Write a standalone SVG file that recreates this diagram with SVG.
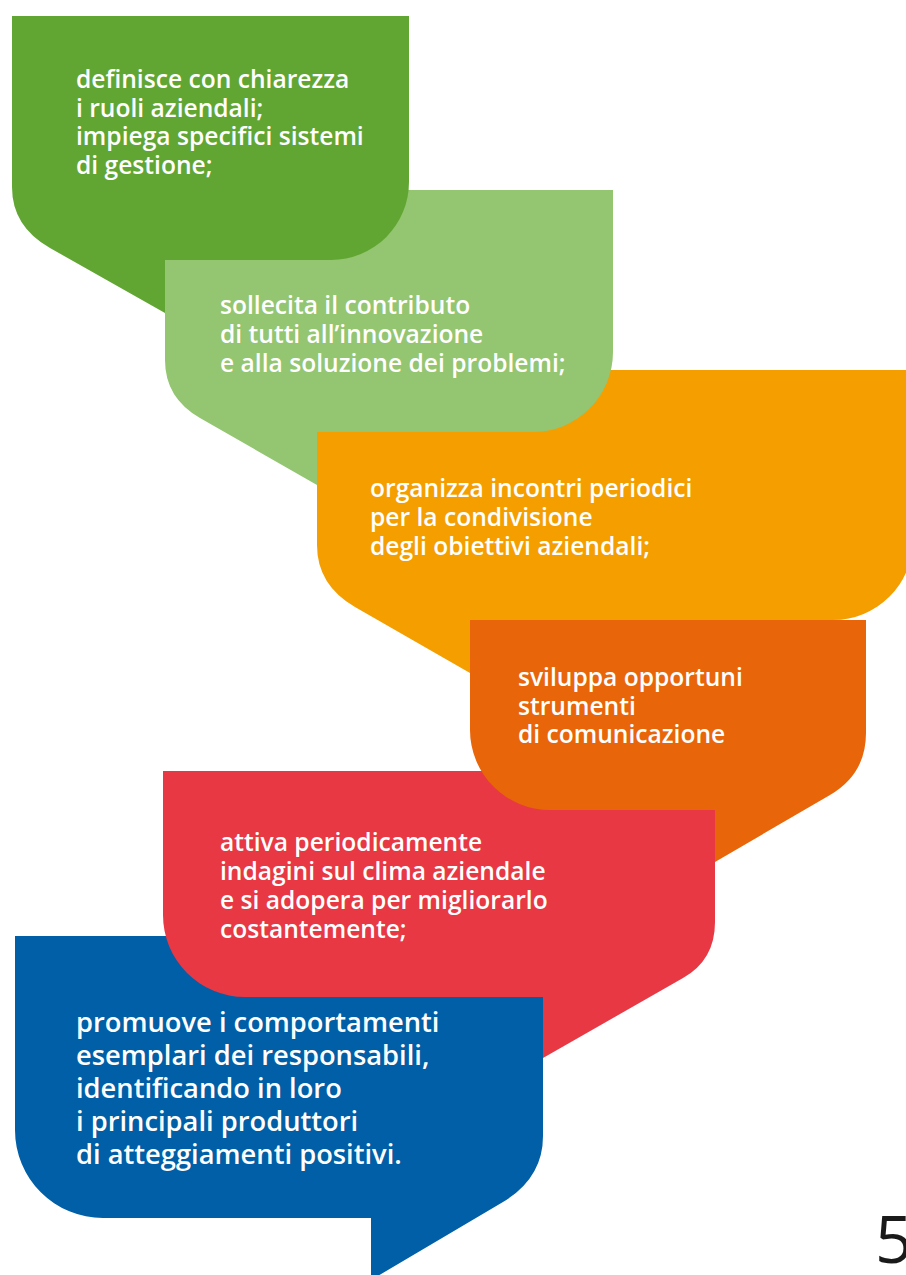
<svg xmlns="http://www.w3.org/2000/svg" width="906" height="1275" viewBox="0 0 906 1275">
<style>
.t{font-family:"Open Sans","Noto Sans","Liberation Sans",sans-serif;font-weight:600;fill:#ffffff;font-size:24.6px}
.tb{font-size:27.3px}
.pg{font-family:"Open Sans","Liberation Sans",sans-serif;font-weight:400;fill:#1a1a1a;font-size:66px}
</style>
<rect x="0" y="0" width="906" height="1275" fill="#ffffff"/>
<g id="connectors"></g>
<g id="node6">
<path d="M15,936 H543 V1136 Q543,1178 503,1202 L371,1280 V1218 H103 A88,88 0 0 1 15,1130 Z" fill="#005fa6"/>
<text class="t tb"><tspan x="76" y="1031.5">promuove i comportamenti</tspan><tspan x="76" y="1064.7">esemplari dei responsabili,</tspan><tspan x="76" y="1097.9">identificando in loro</tspan><tspan x="76" y="1131.1">i principali produttori</tspan><tspan x="76" y="1164.3">di atteggiamenti positivi.</tspan></text>
</g>
<g id="node5">
<path d="M163,771 H715 V922 Q715,960 683,978 L543,1058 V997 H245 A82,82 0 0 1 163,915 Z" fill="#e73843"/>
<text class="t"><tspan x="220" y="851">attiva periodicamente</tspan><tspan x="220" y="880">indagini sul clima aziendale</tspan><tspan x="220" y="909">e si adopera per migliorarlo</tspan><tspan x="220" y="938">costantemente;</tspan></text>
</g>
<g id="node4">
<path d="M470,620 H866 V733 Q866,774 830,795 L715,862 V810 H550 A80,80 0 0 1 470,730 Z" fill="#e9650a"/>
<text class="t"><tspan x="518" y="686">sviluppa opportuni</tspan><tspan x="518" y="715">strumenti</tspan><tspan x="518" y="743">di comunicazione</tspan></text>
</g>
<g id="node3">
<path d="M317,370 H913 V540 A80,80 0 0 1 833,620 H470 V673 L355,607 Q317,585 317,545 Z" fill="#f49e00"/>
<text class="t"><tspan x="370" y="497">organizza incontri periodici</tspan><tspan x="370" y="526">per la condivisione</tspan><tspan x="370" y="554.5">degli obiettivi aziendali;</tspan></text>
</g>
<g id="node2">
<path d="M165,190 H613 V352 A80,80 0 0 1 533,432 H317 V485 L200,418 Q165,398 165,360 Z" fill="#94c571"/>
<text class="t"><tspan x="220" y="313.5">sollecita il contributo</tspan><tspan x="220" y="342.5">di tutti all’innovazione</tspan><tspan x="220" y="371.5">e alla soluzione dei problemi;</tspan></text>
</g>
<g id="node1">
<path d="M12,16 H409 V182 A78,78 0 0 1 331,260 H165 V313 L50,248 Q12,226.5 12,187 Z" fill="#61a632"/>
<text class="t"><tspan x="76" y="88">definisce con chiarezza</tspan><tspan x="76" y="116.7">i ruoli aziendali;</tspan><tspan x="76" y="145.4">impiega specifici sistemi</tspan><tspan x="76" y="174">di gestione;</tspan></text>
</g>
<text class="pg" x="875" y="1263">5</text>
</svg>
